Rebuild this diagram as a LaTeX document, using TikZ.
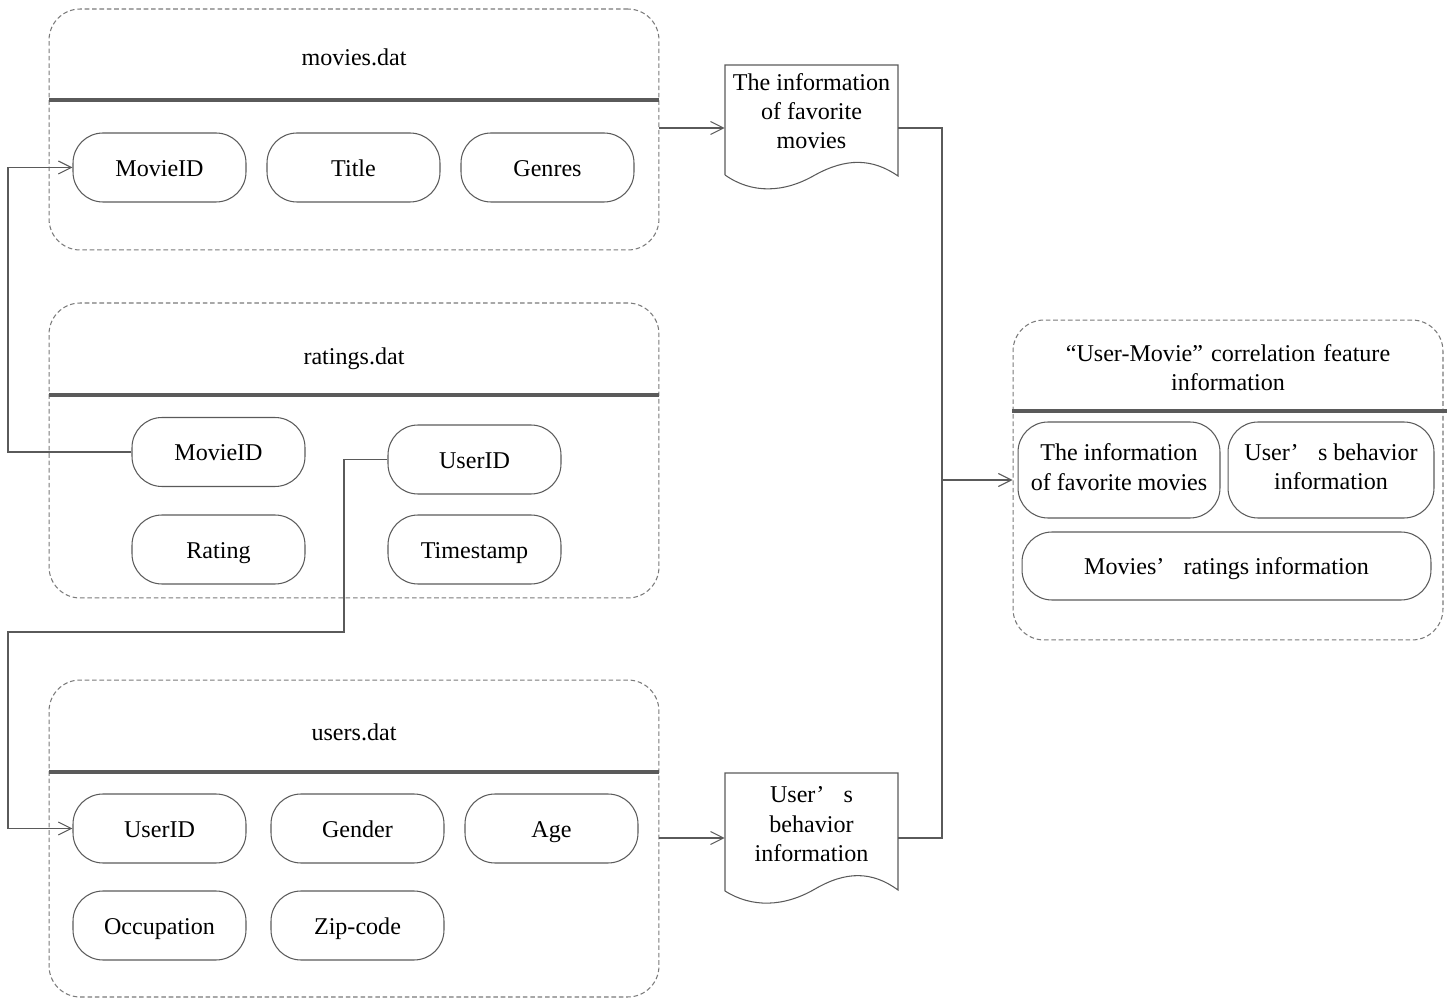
\documentclass[tikz,border=0pt]{standalone}
\usepackage{fontspec}
\setmainfont{Liberation Serif}
\usetikzlibrary{arrows.meta}
\definecolor{ln}{HTML}{5A5A5A}
\definecolor{dl}{HTML}{7A7A7A}
\newcommand\mystrut{\rule[-3.4pt]{0pt}{16.8pt}}
\begin{document}
\begin{tikzpicture}[x=0.02cm,y=-0.02cm,
  every node/.style={font=\fontsize{13.7pt}{16.6pt}\selectfont, text=black, inner sep=0pt},
  container/.style={draw=dl, line width=0.6pt, dash pattern=on 2.6pt off 1.6pt, rounded corners=0.62cm},
  field/.style={draw=ln, line width=0.6pt, rounded corners=0.6cm, minimum width=3.46cm, minimum height=1.38cm, align=center, execute at begin node=\mystrut},
  sep/.style={draw=ln, line width=1.8pt},
  conn/.style={draw=ln, line width=0.6pt, -{Straight Barb[length=0.26cm, width=0.26cm, line width=0.6pt]}},
  link/.style={draw=ln, line width=0.6pt},
  docshape/.style={draw=ln, line width=0.6pt},
  title/.style={align=center, execute at begin node=\mystrut}
]
\useasboundingbox (0,0) rectangle (1450,999);

% ---------- containers ----------
\node[container, minimum width=12.2cm, minimum height=4.82cm] (movies) at (354,129.5) {};
\node[container, minimum width=12.2cm, minimum height=5.9cm] (ratings) at (354,450.5) {};
\node[container, minimum width=12.2cm, minimum height=6.34cm] (users) at (354,838.5) {};
\node[container, minimum width=8.6cm, minimum height=6.4cm] (result) at (1228,480) {};

% titles
\node[title] (tmovies) at (354,57) {movies.dat};
\node[title] (tratings) at (354,356) {ratings.dat};
\node[title] (tusers) at (354,732) {users.dat};
\node[title, text width=8cm] (tresult) at (1228,364) {“User-Movie” correlation feature\\information};

% separators
\draw[sep] (49,100) -- (659,100);
\draw[sep] (49,395) -- (659,395);
\draw[sep] (49,772) -- (659,772);
\draw[sep] (1012,411) -- (1447,411);

% ---------- fields ----------
\node[field] (mmovie) at (159.5,167.5) {MovieID};
\node[field] (mtitle) at (353.5,167.5) {Title};
\node[field] (mgenre) at (547.5,167.5) {Genres};

\node[field] (rmovie) at (218.5,452) {MovieID};
\node[field] (ruser) at (474.5,459.5) {UserID};
\node[field] (rrating) at (218.5,549.5) {Rating};
\node[field] (rtime) at (474.5,549.5) {Timestamp};

\node[field] (uuser) at (159.5,828.5) {UserID};
\node[field] (ugender) at (357.5,828.5) {Gender};
\node[field] (uage) at (551.5,828.5) {Age};
\node[field] (uocc) at (159.5,925.5) {Occupation};
\node[field] (uzip) at (357.5,925.5) {Zip-code};

\node[field, minimum width=4.04cm, minimum height=1.92cm] (rfav) at (1119,470) {The information\\of favorite movies};
\node[field, minimum width=4.12cm, minimum height=1.92cm] (rbeh) at (1331,470) {User’\hspace{0.8em}s behavior\\information};
\node[field, minimum width=8.18cm, minimum height=1.36cm] (rrat) at (1226.5,566) {Movies’\hspace{0.8em}ratings information};

% ---------- document shapes ----------
\node[minimum width=3.46cm, minimum height=2.2cm] (doc1) at (811.5,120) {};
\draw[docshape] (725,175) -- (725,65) -- (898,65) -- (898,176)
  .. controls (872,158) and (846,158) .. (815,175)
  .. controls (784,193) and (752,194) .. (725,175);
\node[title] (doc1text) at (811.5,114) {The information\\of favorite\\movies};

\node[minimum width=3.46cm, minimum height=2.36cm] (doc2) at (811.5,832) {};
\draw[docshape] (725,891) -- (725,773) -- (898,773) -- (898,890)
  .. controls (872,871) and (846,871) .. (815,889)
  .. controls (784,907) and (752,908) .. (725,891);
\node[title] (doc2text) at (811.5,827) {User’\hspace{0.8em}s\\behavior\\information};

% ---------- connectors ----------
\coordinate (lx) at (8,0);
\coordinate (jx) at (942,0);
\coordinate (k1) at (344,632);
\coordinate (k2) at (8,632);
\coordinate (y1) at (0,128);
\coordinate (y2) at (0,838);

\draw[conn] (movies.east |- y1) -- (doc1.west |- y1);
\draw[conn] (users.east |- y2) -- (doc2.west |- y2);
\draw[link] (doc1.east |- y1) -| (jx |- y2) -- (doc2.east |- y2);
\draw[conn] (jx |- result.west) -- (result.west);

\draw[conn] (rmovie.west) -- (rmovie.west -| lx) |- (mmovie.west);
\draw[conn] (ruser.west) -| (k1) -- (k2) |- (uuser.west);
\end{tikzpicture}
\end{document}
